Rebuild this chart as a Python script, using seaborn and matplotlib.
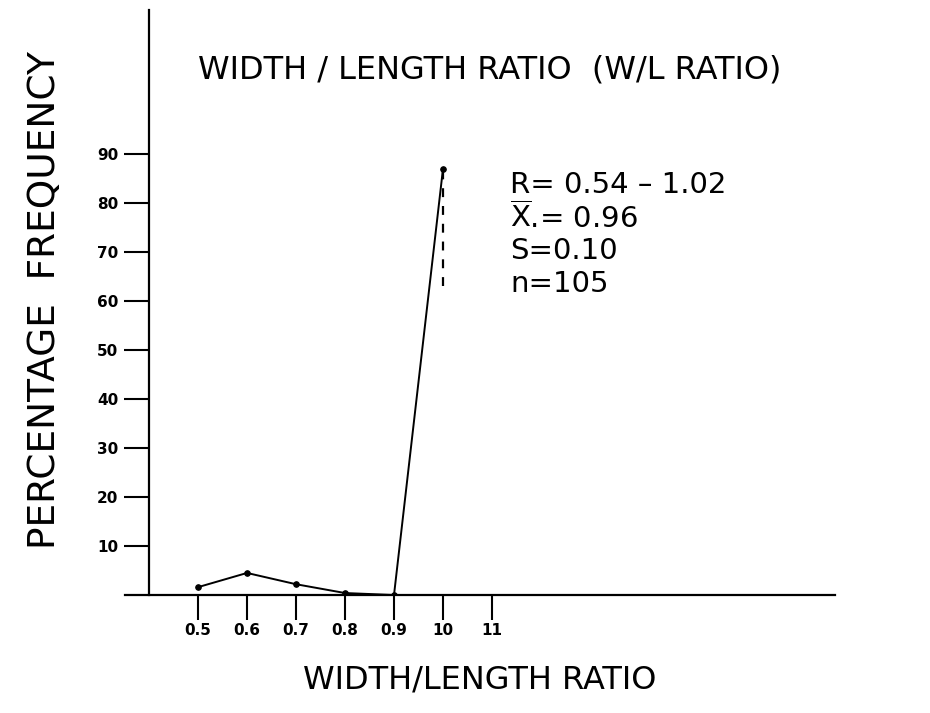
import numpy as np
import seaborn as sns
import matplotlib.pyplot as plt

ratio = [0.5, 0.6, 0.7, 0.8, 0.9, 1.0]
freq = [1.6, 4.5, 2.2, 0.4, 0.0, 87.0]

# short dashed mark under the peak
dash_x = [1.0, 1.0]
dash_y = [63.0, 87.0]

x_ticks = [0.5, 0.6, 0.7, 0.8, 0.9, 1.0, 1.1]
x_tick_labels = ["0.5", "0.6", "0.7", "0.8", "0.9", "10", "11"]
y_ticks = [10, 20, 30, 40, 50, 60, 70, 80, 90]

stats = ["R= 0.54 \u2013 1.02", r"$\overline{\mathrm{X}}$.= 0.96", "S=0.10", "n=105"]


def plot_polygon():
    sns.set_style("white")
    plt.rcParams['font.family'] = ['DejaVu Sans']
    plt.rcParams['mathtext.fontset'] = 'dejavusans'
    plt.rcParams['text.color'] = 'black'

    fig = plt.figure(figsize=(9.3, 7.13), dpi=100)
    ax = fig.add_axes([124.5 / 930, 118 / 713, 710.5 / 930, 585 / 713])

    sns.lineplot(x=ratio, y=freq, ax=ax, color="black", linewidth=1.4,
                 marker="o", markersize=4, markeredgecolor="black")
    ax.plot(dash_x, dash_y, color="black", linewidth=1.6, linestyle=(0, (4, 4)))

    ax.set_xlim(0.35, 1.80)
    ax.set_ylim(0, 119.4)

    for side in ["top", "right"]:
        ax.spines[side].set_visible(False)
    ax.spines["left"].set_position(("data", 0.4))
    for side in ["left", "bottom"]:
        ax.spines[side].set_linewidth(1.6)
        ax.spines[side].set_color("black")

    ax.set_xticks(x_ticks)
    ax.set_xticklabels(x_tick_labels)
    ax.set_yticks(y_ticks)
    ax.tick_params(axis="both", direction="out", length=18, width=1.5,
                   color="black", labelcolor="black", labelsize=11, pad=4,
                   bottom=True, left=True)
    ax.tick_params(axis="x", pad=2)
    for lab in ax.get_yticklabels() + ax.get_xticklabels():
        lab.set_fontweight("bold")

    fig.text(490 / 930, 1 - 70 / 713, "WIDTH / LENGTH RATIO  (W/L RATIO)",
             ha="center", va="center", fontsize=23)
    fig.text(45 / 930, 1 - 300 / 713, "PERCENTAGE  FREQUENCY",
             ha="center", va="center", rotation=90, fontsize=27)
    fig.text(480 / 930, 1 - 680 / 713, "WIDTH/LENGTH RATIO",
             ha="center", va="center", fontsize=23)

    for i, s in enumerate(stats):
        fig.text(510 / 930, 1 - (185 + i * 33) / 713, s,
                 ha="left", va="center", fontsize=21)

    fig.savefig("out.png", dpi=100, facecolor="white")


if __name__ == "__main__":
    plot_polygon()
